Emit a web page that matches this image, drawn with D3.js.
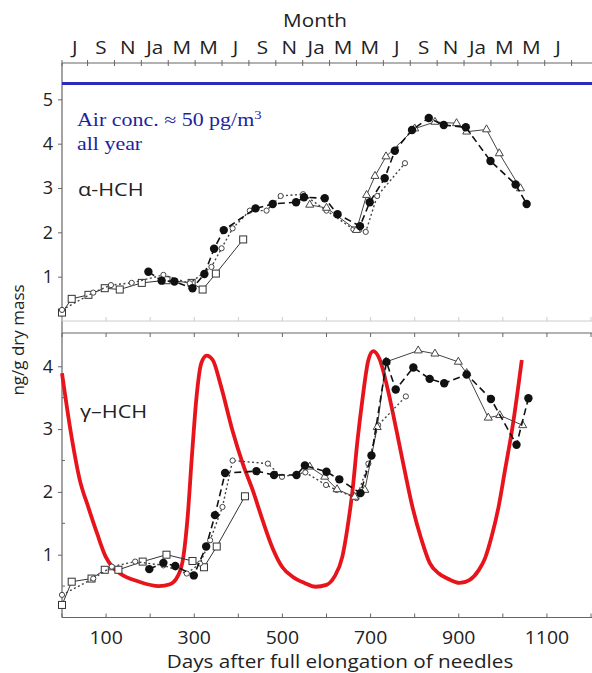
<!DOCTYPE html>
<html><head><meta charset="utf-8">
<script src="https://cdn.jsdelivr.net/npm/d3@7"></script>
<style>
html,body{margin:0;padding:0;background:#fff;}
svg{display:block;}
</style></head>
<body>
<script>
// ---------- DATA ----------
const monthLabels = ["J","S","N","Ja","M","M","J","S","N","Ja","M","M","J","S","N","Ja","M","M","J"];
const monthTickDays = [0,58,119,180,241,302,363,424,485,546,607,668,729,790,851,912,973,1034,1095,1156];
const dayTicks = [0,100,200,300,400,500,600,700,800,900,1000,1100,1200];
const dayTickLabels = [100,300,500,700,900,1100];
const upperTicks = [1,2,3,4,5];
const lowerTicks = [1,2,3,4];
const lowerMinorTicks = [0.5,1.5,2.5,3.5];
const airConc = 5.36;

// alpha-HCH (upper panel)
const upSqDays = [0,22,60,97,131,181,237,294,319,349,411];
const upSqVals = [0.19,0.50,0.59,0.74,0.71,0.86,0.92,0.86,0.71,1.07,1.84];
const upCircDays = [196,226,255,296,323,345,367,439,478,531,549,596,625,676,698,732,755,794,832,866,916,972,1029,1054];
const upCircVals = [1.11,0.91,0.89,0.74,1.06,1.63,2.05,2.54,2.64,2.68,2.79,2.77,2.41,2.14,2.68,3.22,3.84,4.31,4.58,4.42,4.37,3.61,3.08,2.64];
const upDiaDays = [0,71,111,158,230,290,339,362,387,426,464,496,547,600,661,689,715,778];
const upDiaVals = [0.25,0.64,0.81,0.86,1.04,0.85,1.22,1.64,2.09,2.49,2.49,2.82,2.86,2.49,2.07,2.01,2.82,3.56];
const upTriDays = [562,600,668,691,710,735,800,846,895,918,963,992,1040];
const upTriVals = [2.62,2.55,2.05,2.84,3.27,3.71,4.34,4.49,4.46,4.27,4.32,3.78,2.99];

// gamma-HCH (lower panel)
const loSqDays = [0,22,67,97,128,183,237,296,322,351,415];
const loSqVals = [0.20,0.57,0.62,0.76,0.76,0.89,1.00,0.90,0.80,1.13,1.93];
const loCircDays = [198,230,257,299,327,347,370,441,481,532,551,600,629,677,702,736,757,797,834,867,918,973,1031,1058];
const loCircVals = [0.77,0.87,0.82,0.67,1.13,1.63,2.30,2.33,2.27,2.27,2.42,2.32,2.20,1.98,2.58,4.07,3.63,3.98,3.80,3.73,3.87,3.48,2.75,3.49];
const loDiaDays = [0,71,113,166,230,283,313,336,364,387,467,499,552,599,623,668,695,717,780];
const loDiaVals = [0.36,0.62,0.81,0.89,0.83,0.70,0.86,1.23,1.76,2.50,2.45,2.24,2.31,2.11,2.03,1.90,2.45,3.06,3.52];
const loTriDays = [562,596,624,664,687,715,735,808,846,899,918,967,993,1045];
const loTriVals = [2.40,2.24,2.04,1.92,2.03,3.03,4.07,4.25,4.20,4.07,3.89,3.18,3.22,3.06];

// red seasonal curve (lower panel)
const redDays = [0,20,40,60,80,99,115,130,175,220,245,262,275,285,295,305,316,328,342,360,387,410,433,455,478,500,523,550,575,600,618,636,648,659,670,682,695,706,720,740,759,777,795,815,834,855,872,902,925,945,960,975,990,1005,1023,1043];
const redVals = [3.89,2.95,2.20,1.75,1.33,0.97,0.80,0.71,0.57,0.50,0.53,0.65,0.95,1.60,2.60,3.50,4.05,4.17,4.10,3.70,2.97,2.45,2.02,1.55,1.10,0.80,0.65,0.55,0.49,0.52,0.65,0.97,1.45,2.02,2.80,3.50,4.10,4.24,4.12,3.60,2.97,2.35,1.76,1.25,0.87,0.70,0.63,0.55,0.60,0.75,0.95,1.30,1.75,2.35,3.08,4.10];

// ---------- CHART ----------
const W = 592, H = 673;
const FONT = "'Open Sans', 'Noto Sans', sans-serif";
const SERIF = "'Liberation Serif', serif";
const AX = "#666";
const TXT = "#222";
const SX = 1.15; // horizontal stretch seen in the reference lettering
const svg = d3.select("body").append("svg").attr("width", W).attr("height", H);

const x = d3.scaleLinear().domain([0, 1200]).range([62, 591]);
const yT = d3.scaleLinear().domain([0, 5.82]).range([321, 63]);
const yB = d3.scaleLinear().domain([0, 4.53]).range([617.5, 333]);
const zip = (a, b) => a.map((d, i) => [d, b[i]]);

function label(px, py, str, opts = {}) {
  return svg.append("text")
    .attr("transform", `translate(${px},${py}) scale(${opts.sx || SX},1)`)
    .attr("text-anchor", opts.anchor || "start")
    .attr("font-family", opts.family || FONT)
    .attr("font-size", opts.size || 17.5)
    .attr("fill", opts.fill || TXT)
    .text(str);
}

// top month axis
const topY = yT.range()[1];
svg.append("line").attr("x1", x(0)).attr("x2", W).attr("y1", topY).attr("y2", topY).attr("stroke", AX).attr("stroke-width", 1.2);
svg.selectAll(".mt").data(monthTickDays).enter().append("line")
  .attr("x1", d => x(d)).attr("x2", d => x(d)).attr("y1", topY - 3).attr("y2", topY + 3)
  .attr("stroke", AX);
monthLabels.forEach((m, i) => {
  label((x(monthTickDays[i]) + x(monthTickDays[i + 1])) / 2, topY - 9, m, {anchor: "middle", size: 18});
});
label(315, 27, "Month", {anchor: "middle", size: 18});

// left axis (continuous)
svg.append("line").attr("x1", x(0)).attr("x2", x(0)).attr("y1", yT.range()[1]).attr("y2", yB.range()[0]).attr("stroke", AX).attr("stroke-width", 1.2);

// upper panel bottom line
svg.append("line").attr("x1", x(0)).attr("x2", W).attr("y1", yT(0)).attr("y2", yT(0)).attr("stroke", "#ccc");
svg.selectAll(".ubt").data(dayTicks).enter().append("line")
  .attr("x1", d => x(d)).attr("x2", d => x(d)).attr("y1", yT(0)).attr("y2", yT(0) - 4).attr("stroke", "#ccc");
const gT = svg.append("g").attr("transform", `translate(${x(0)},0)`)
  .call(d3.axisLeft(yT).tickValues(upperTicks).tickSize(4).tickFormat(d3.format("d")));
gT.select(".domain").remove();
gT.selectAll("line").attr("stroke", AX);
gT.selectAll("text").attr("font-family", FONT).attr("font-size", 18).attr("fill", TXT).attr("dx", -2);

// lower panel axes
svg.append("line").attr("x1", x(0)).attr("x2", W).attr("y1", yB.range()[1]).attr("y2", yB.range()[1]).attr("stroke", AX).attr("stroke-width", 1.2);
svg.append("line").attr("x1", x(0)).attr("x2", W).attr("y1", yB(0)).attr("y2", yB(0)).attr("stroke", AX).attr("stroke-width", 1.2);
svg.selectAll(".ltt").data(dayTicks).enter().append("line")
  .attr("x1", d => x(d)).attr("x2", d => x(d)).attr("y1", yB.range()[1]).attr("y2", yB.range()[1] + 4).attr("stroke", AX);
svg.selectAll(".lbt").data(dayTicks).enter().append("line")
  .attr("x1", d => x(d)).attr("x2", d => x(d)).attr("y1", yB(0)).attr("y2", yB(0) - 4).attr("stroke", AX);
dayTickLabels.forEach(d => label(x(d), yB(0) + 26, String(d), {anchor: "middle", size: 18, sx: 1.08}));
const gB = svg.append("g").attr("transform", `translate(${x(0)},0)`)
  .call(d3.axisLeft(yB).tickValues(lowerTicks).tickSize(4).tickFormat(d3.format("d")));
gB.select(".domain").remove();
gB.selectAll("line").attr("stroke", AX);
gB.selectAll("text").attr("font-family", FONT).attr("font-size", 18).attr("fill", TXT).attr("dx", -2);
svg.selectAll(".lmin").data(lowerMinorTicks).enter().append("line")
  .attr("x1", x(0)).attr("x2", x(0) + 3).attr("y1", d => yB(d)).attr("y2", d => yB(d)).attr("stroke", AX);

// axis titles
label(340, 668, "Days after full elongation of needles", {anchor: "middle", size: 18});
svg.append("text").attr("transform", "translate(24,340) rotate(-90)").attr("text-anchor", "middle")
  .attr("font-family", FONT).attr("font-size", 17).attr("fill", TXT).text("ng/g dry mass");

// blue air conc line + annotation
svg.append("line").attr("x1", x(0)).attr("x2", W).attr("y1", yT(airConc)).attr("y2", yT(airConc))
  .attr("stroke", "#2b2bbf").attr("stroke-width", 3);
const tAir = label(77, 126, "", {family: SERIF, size: 18, fill: "#1f1fa0", sx: 1.22});
tAir.append("tspan").text("Air conc. \u2248 50 pg/m");
tAir.append("tspan").attr("dy", -7).attr("font-size", 12).text("3");
label(77, 150, "all year", {family: SERIF, size: 18, fill: "#1f1fa0", sx: 1.22});
label(78, 196, "\u03b1-HCH", {size: 18, sx: 1.2});
label(80, 418, "\u03b3\u2013HCH", {size: 18, sx: 1.2});

// red curve
svg.append("path").datum(zip(redDays, redVals))
  .attr("d", d3.line().x(d => x(d[0])).y(d => yB(d[1])).curve(d3.curveMonotoneX))
  .attr("fill", "none").attr("stroke", "#e8141b").attr("stroke-width", 3.8).attr("stroke-linejoin", "round");

// series drawing
function drawSeries(days, vals, y, style, marker) {
  const data = zip(days, vals);
  const ln = d3.line().x(d => x(d[0])).y(d => y(d[1]));
  svg.append("path").datum(data).attr("d", ln).attr("fill", "none")
    .attr("stroke", style.color).attr("stroke-width", style.width)
    .attr("stroke-dasharray", style.dash || null);
  const g = svg.append("g");
  data.forEach(d => {
    const cx = x(d[0]), cy = y(d[1]);
    if (marker === "square") {
      g.append("rect").attr("x", cx - 3.5).attr("y", cy - 3.5).attr("width", 7).attr("height", 7)
        .attr("fill", "#fff").attr("stroke", "#333").attr("stroke-width", 1);
    } else if (marker === "circle") {
      g.append("circle").attr("cx", cx).attr("cy", cy).attr("r", 4.2).attr("fill", "#111");
    } else if (marker === "diamond") {
      g.append("circle").attr("cx", cx).attr("cy", cy).attr("r", 2.6)
        .attr("fill", "#fff").attr("stroke", "#444").attr("stroke-width", 1);
    } else if (marker === "triangle") {
      g.append("path").attr("d", d3.symbol(d3.symbolTriangle, 28)())
        .attr("transform", `translate(${cx},${cy})`)
        .attr("fill", "#fff").attr("stroke", "#444").attr("stroke-width", 1);
    }
  });
}
const sSq = {color: "#333", width: 1};
const sCirc = {color: "#111", width: 1.6, dash: "7,4"};
const sDia = {color: "#444", width: 1.4, dash: "2,2.5"};
const sTri = {color: "#444", width: 1};

drawSeries(upSqDays, upSqVals, yT, sSq, "square");
drawSeries(upDiaDays, upDiaVals, yT, sDia, "diamond");
drawSeries(upTriDays, upTriVals, yT, sTri, "triangle");
drawSeries(upCircDays, upCircVals, yT, sCirc, "circle");

drawSeries(loSqDays, loSqVals, yB, sSq, "square");
drawSeries(loDiaDays, loDiaVals, yB, sDia, "diamond");
drawSeries(loTriDays, loTriVals, yB, sTri, "triangle");
drawSeries(loCircDays, loCircVals, yB, sCirc, "circle");
</script>
</body></html>
